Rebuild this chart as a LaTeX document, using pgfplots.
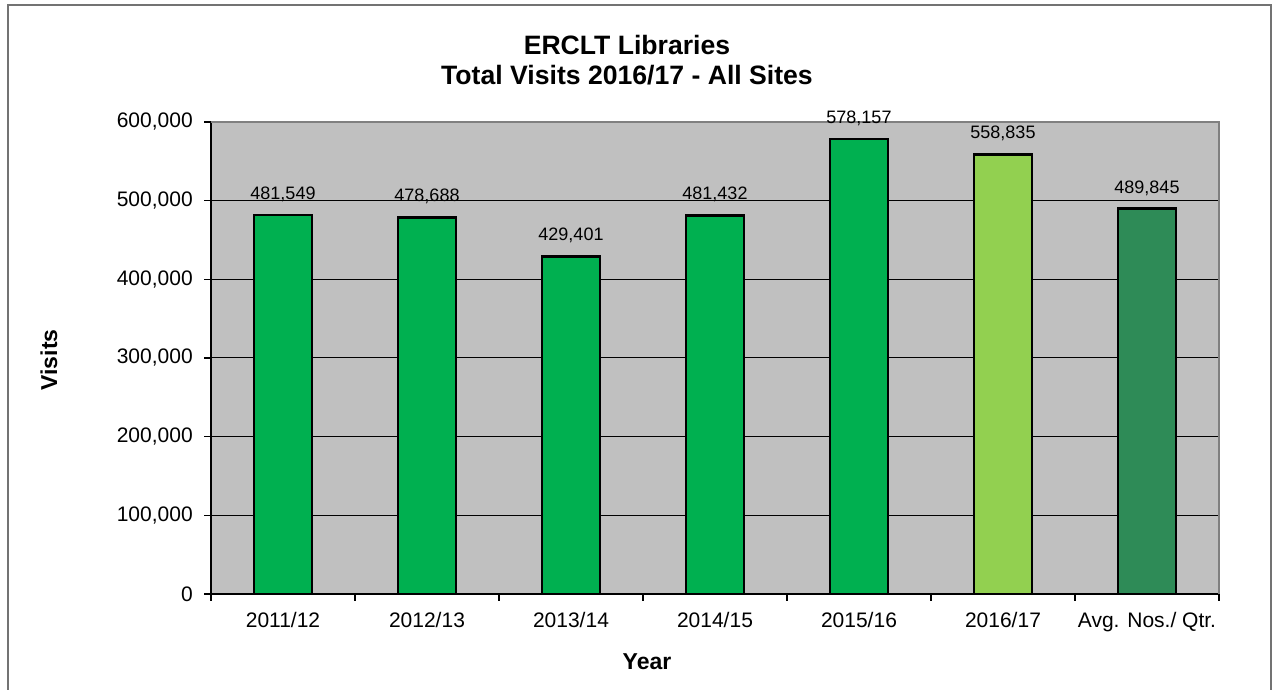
\documentclass[border=0pt]{standalone}
\usepackage{fontspec}
\setmainfont{Liberation Sans}
\usepackage{pgfplots}
\pgfplotsset{compat=1.18}
\definecolor{plotbg}{HTML}{C0C0C0}
\definecolor{barA}{HTML}{00B050}
\definecolor{barB}{HTML}{92D050}
\definecolor{barC}{HTML}{2E8B57}
\definecolor{edgegray}{HTML}{808080}
\begin{document}
\begin{tikzpicture}[x=1pt,y=1pt]
\useasboundingbox (0,0) rectangle (638,345);
\draw[black!55, line width=0.7pt] (4,-2) -- (4,342.5) -- (635.5,342.5) -- (635.5,-2);
\begin{axis}[
  at={(105.5pt,48pt)}, anchor=south west,
  scale only axis, width=504pt, height=236pt,
  xmin=-0.5, xmax=6.5, ymin=0, ymax=600000,
  clip=false,
  axis background/.style={fill=plotbg},
  axis x line*=bottom, axis y line*=left,
  axis line style={black, line width=0.75pt},
  ytick={0,100000,200000,300000,400000,500000,600000},
  scaled y ticks=false,
  yticklabel style={xshift=-2.3pt, /pgf/number format/fixed, /pgf/number format/1000 sep={,}},
  xtick={-0.5,0.5,1.5,2.5,3.5,4.5,5.5,6.5},
  xticklabels={},
  extra x ticks={0,1,2,3,4,5,6},
  extra x tick labels={2011/12,2012/13,2013/14,2014/15,2015/16,2016/17,Avg. Nos./ Qtr.},
  extra x tick style={major tick length=0pt, grid=none, xticklabel style={yshift=-5.5pt}},
  tick align=outside,
  major tick length=3.3pt,
  tick style={black, line width=0.6pt},
  ymajorgrids, grid style={black, line width=0.5pt},
  ticklabel style={font=\fontsize{10.5}{12}\selectfont, text=black},
  /pgf/number format/assume math mode=true,
  bar width=0.403,
  nodes near coords,
  nodes near coords style={font=\fontsize{9}{10}\selectfont, text=black, yshift=2.6pt,
    /pgf/number format/fixed, /pgf/number format/precision=0, /pgf/number format/1000 sep={,}},
]
\addplot[ybar, bar shift=0pt, fill=barA, draw=black, line width=1.3pt] coordinates {(0,481549) (1,478688) (2,429401) (3,481432) (4,578157)};
\addplot[ybar, bar shift=0pt, fill=barB, draw=black, line width=1.3pt] coordinates {(5,558835)};
\addplot[ybar, bar shift=0pt, fill=barC, draw=black, line width=1.3pt] coordinates {(6,489845)};
\draw[edgegray, line width=0.9pt] (rel axis cs:0,1) -- (rel axis cs:1,1) -- (rel axis cs:1,0);
\end{axis}
\node[anchor=base, font=\fontsize{13.3}{15}\bfseries\selectfont] at (313.5,317.5) {ERCLT Libraries};
\node[anchor=base, font=\fontsize{13.3}{15}\bfseries\selectfont] at (313.5,302.75) {Total Visits 2016/17 - All Sites};
\node[anchor=base, font=\fontsize{11.5}{13}\bfseries\selectfont] at (323.5,10) {Year};
\node[anchor=base, rotate=90, font=\fontsize{11.5}{13}\bfseries\selectfont] at (28.5,165) {Visits};
\end{tikzpicture}
\end{document}
